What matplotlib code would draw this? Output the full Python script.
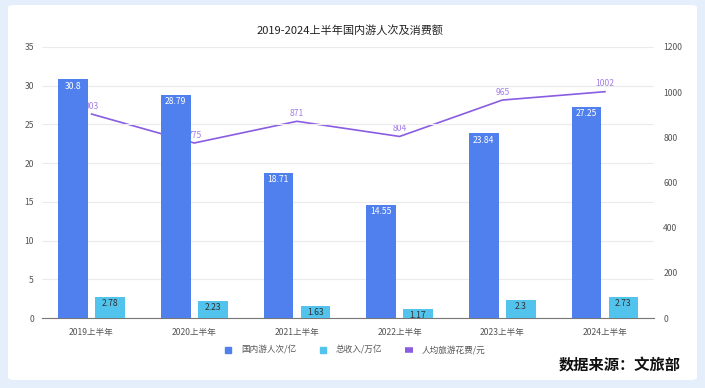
import matplotlib.pyplot as plt
import numpy as np
from matplotlib.patches import FancyBboxPatch
from matplotlib.lines import Line2D

plt.rcParams['font.family'] = ['Noto Sans CJK SC', 'DejaVu Sans']

# datos
categorias = ['2019上半年', '2020上半年', '2021上半年', '2022上半年', '2023上半年', '2024上半年']
visitas = [30.8, 28.79, 18.71, 14.55, 23.84, 27.25]      # 国内游人次/亿
ingresos = [2.78, 2.23, 1.63, 1.17, 2.3, 2.73]           # 总收入/万亿
gasto = [903, 775, 871, 804, 965, 1002]                  # 人均旅游花费/元

azul = '#5080ee'
celeste = '#52c3ec'
morado = '#8a5ce2'

fig = plt.figure(figsize=(7.05, 3.88), dpi=100)
fig.patch.set_facecolor('#e5effb')
# tarjeta blanca
fig.patches.append(FancyBboxPatch((8 / 705, 1 - 380 / 388), 689 / 705, 375 / 388,
                                  boxstyle='round,pad=0,rounding_size=0.008',
                                  transform=fig.transFigure, facecolor='white',
                                  edgecolor='none', zorder=-10))

ax = fig.add_axes([0.060, 0.180, 0.868, 0.699])
ax2 = ax.twinx()
ax.set_zorder(ax2.get_zorder() + 1)
ax.patch.set_visible(False)
ax2.patch.set_visible(False)

x = np.arange(len(categorias))
w = 0.29
ax.bar(x - 0.18, visitas, w, color=azul, zorder=3)
ax.bar(x + 0.18, ingresos, w, color=celeste, zorder=3)

for xi, v in zip(x - 0.18, visitas):
    ax.annotate(f'{v:g}', (xi, v), xytext=(0, -1.5), textcoords='offset points',
                ha='center', va='top', fontsize=6.2, color='white', zorder=4)
for xi, v in zip(x + 0.18, ingresos):
    ax.annotate(f'{v:g}', (xi, v), xytext=(0, -1.5), textcoords='offset points',
                ha='center', va='top', fontsize=6.2, color='#333333', zorder=4)

ax2.plot(x, gasto, color=morado, lw=1.2)
for xi, v in zip(x, gasto):
    ax2.annotate(str(v), (xi, v), xytext=(0, 2.5), textcoords='offset points',
                 ha='center', va='bottom', fontsize=6.2, color='#a47ee8')

# limites
ax.set_xlim(-0.48, 5.48)
ax.set_ylim(0, 35)
ax2.set_ylim(0, 1200)
ax.set_yticks(range(0, 36, 5))
ax2.set_yticks(range(0, 1201, 200))
ax.set_xticks(x)
ax.set_xticklabels(categorias)

# grid
ax.grid(axis='y', color='#ebebeb', lw=0.8, zorder=0)
for a in (ax, ax2):
    for s in ('top', 'left', 'right', 'bottom'):
        a.spines[s].set_visible(False)
    a.tick_params(length=0, labelsize=6.2, labelcolor='#555555')
ax.spines['bottom'].set_visible(True)
ax.spines['bottom'].set_color('#777777')
ax.spines['bottom'].set_linewidth(0.8)
ax.tick_params(axis='x', pad=7)
ax.tick_params(axis='y', pad=6)
ax2.tick_params(axis='y', pad=6.5)

fig.text(0.497, 0.922, '2019-2024上半年国内游人次及消费额', ha='center', va='center',
         fontsize=8, color='#222222', fontweight='medium')

handles = [Line2D([], [], ls='none', marker='s', markersize=5, color=azul),
           Line2D([], [], ls='none', marker='s', markersize=5, color=celeste),
           Line2D([], [], color=morado, lw=4, solid_capstyle='butt')]
fig.legend(handles, ['国内游人次/亿', '总收入/万亿', '人均旅游花费/元'],
           loc='center', bbox_to_anchor=(0.503, 0.098), ncol=3, frameon=False,
           fontsize=6.2, handlelength=1.0, columnspacing=2.6,
           handletextpad=1.0, labelcolor='#555555')

fig.text(0.965, 0.059, '数据来源：文旅部', ha='right', va='center',
         fontsize=11, fontweight='bold', color='#111111')

plt.savefig('out.png', dpi=100, facecolor=fig.get_facecolor())
